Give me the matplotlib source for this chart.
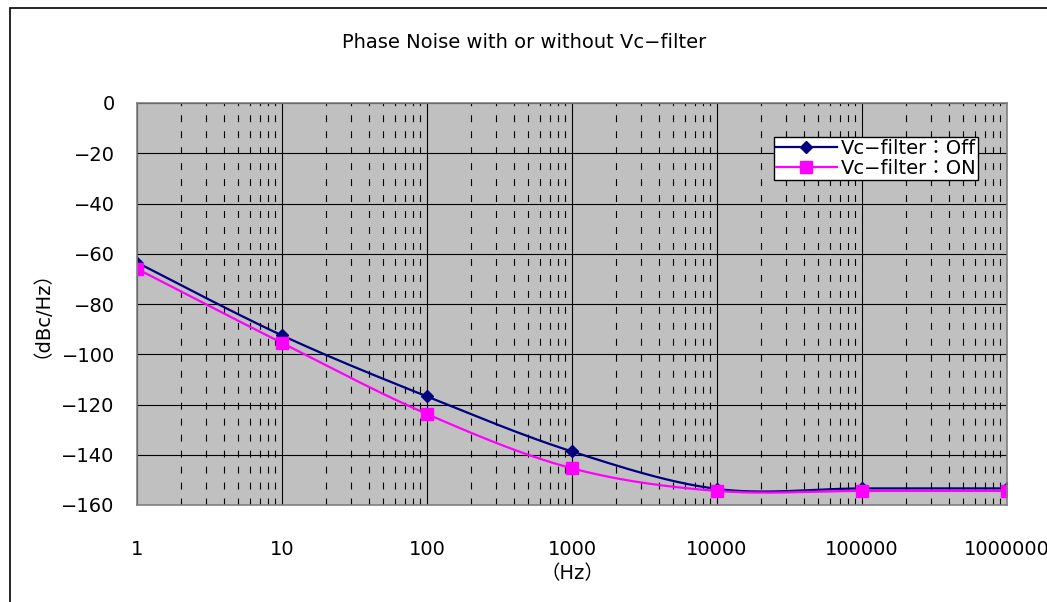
import numpy as np
import matplotlib
matplotlib.use("Agg")
import matplotlib.pyplot as plt
from matplotlib.patches import Rectangle

plt.rcParams['font.family'] = ['DejaVu Sans', 'Noto Sans CJK JP']
plt.rcParams['lines.scale_dashes'] = False

freq = [1, 10, 100, 1000, 10000, 100000, 1000000]
noise_off = [-63.5, -92.5, -116.8, -138.7, -153.6, -153.4, -153.4]
noise_on = [-66.0, -95.5, -123.8, -145.4, -154.4, -154.4, -154.4]
y_ticks = [0, -20, -40, -60, -80, -100, -120, -140, -160]
x_ticks = [1, 10, 100, 1000, 10000, 100000, 1000000]


def smooth(xs, ys, n=40):
    # Catmull-Rom through the points in (log x, y), like Excel's smoothed line
    lx = np.log10(xs)
    ys = np.asarray(ys, dtype=float)
    px = np.concatenate([[lx[0]], lx, [lx[-1]]])
    py = np.concatenate([[ys[0]], ys, [ys[-1]]])
    out_x, out_y = [], []
    t = np.linspace(0, 1, n)
    for i in range(1, len(px) - 2):
        for arr, out in ((px, out_x), (py, out_y)):
            p0, p1, p2, p3 = arr[i - 1], arr[i], arr[i + 1], arr[i + 2]
            seg = 0.5 * (2 * p1 + (-p0 + p2) * t
                         + (2 * p0 - 5 * p1 + 4 * p2 - p3) * t ** 2
                         + (-p0 + 3 * p1 - 3 * p2 + p3) * t ** 3)
            out.extend(seg)
    return 10 ** np.array(out_x), np.array(out_y)


fig = plt.figure(figsize=(10.47, 6.02), dpi=100)
fig.patches.append(Rectangle((10 / 1047, -0.1), 1.2, 1.1 - 8 / 602, transform=fig.transFigure,
                             fill=False, edgecolor='black', linewidth=1.2))

ax = fig.add_axes([137 / 1047, 97 / 602, 870 / 1047, 402 / 602])
ax.set_facecolor('#c0c0c0')
ax.set_xscale('log')
ax.set_xlim(1, 1000000)
ax.set_ylim(-160, 0)

ax.grid(True, which='major', axis='both', color='black', linewidth=0.8)
ax.grid(True, which='minor', axis='x', color='black', linewidth=0.8,
        linestyle=(0, (5, 6.5)))
ax.set_axisbelow(True)

sx, sy = smooth(freq, noise_off)
ax.plot(sx, sy, color='#000080', linewidth=1.6)
ax.plot(freq, noise_off, linestyle='none', marker='D', markersize=6.5,
        color='#000080')
sx, sy = smooth(freq, noise_on)
ax.plot(sx, sy, color='#ff00ff', linewidth=1.6)
ax.plot(freq, noise_on, linestyle='none', marker='s', markersize=9,
        color='#ff00ff')

ax.set_yticks(y_ticks)
ax.set_xticks(x_ticks)
ax.set_xticklabels([str(v) for v in x_ticks])
ax.tick_params(axis='both', which='major', length=0, labelsize=14)
ax.tick_params(axis='x', which='major', pad=25)
ax.tick_params(axis='y', which='major', pad=16)
ax.tick_params(axis='x', which='minor', length=0, labelbottom=False)
for s in ax.spines.values():
    s.set_color('#808080')
    s.set_linewidth(1.2)

ax.set_xlabel('（Hz）', fontsize=14, labelpad=4)
ax.set_ylabel('（dBc/Hz）', fontsize=14, labelpad=14)
fig.text(524 / 1047, 1 - 43 / 602, 'Phase Noise with or without Vc−filter',
         ha='center', va='center', fontsize=14)

h1, = ax.plot([], [], color='#000080', linewidth=1.6, marker='D', markersize=6.5)
h2, = ax.plot([], [], color='#ff00ff', linewidth=1.6, marker='s', markersize=9)
leg = ax.legend([h1, h2], ['Vc−filter：Off', 'Vc−filter：ON'],
                loc='upper right', bbox_to_anchor=(978 / 1047, 1 - 137 / 602),
                bbox_transform=fig.transFigure, fontsize=14, fancybox=False,
                framealpha=1, edgecolor='black', borderpad=0.1,
                handlelength=3.1, handletextpad=0.2, labelspacing=0.05,
                borderaxespad=0)
leg.get_frame().set_linewidth(1.0)

fig.savefig('out.png', dpi=100)
